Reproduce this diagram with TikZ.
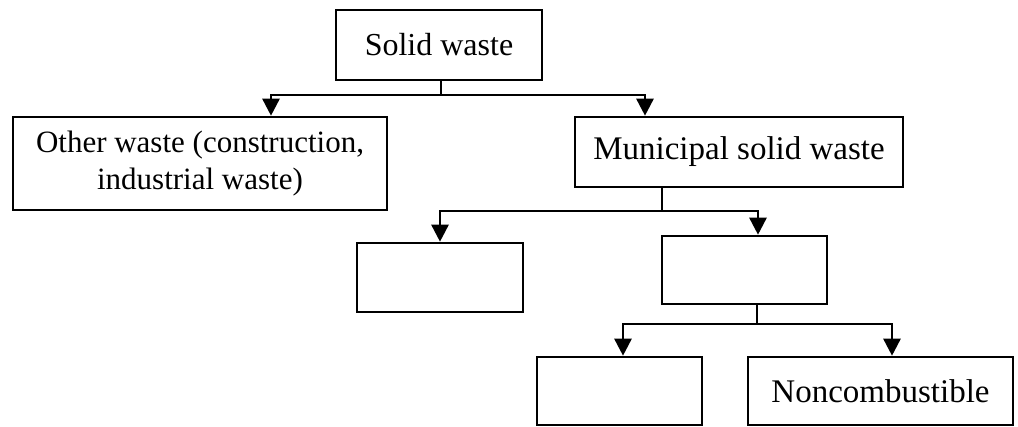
\documentclass[tikz,border=0pt]{standalone}
\usepackage{fontspec}
\setmainfont{Liberation Serif}
\usetikzlibrary{arrows.meta}
\begin{document}
\begin{tikzpicture}[x=1pt,y=-1pt,
  box/.style={draw,line width=2.6pt,inner sep=0pt,align=center,
    font=\fontsize{33}{40}\selectfont},
  link/.style={line width=2.6pt},
  arr/.style={link,-{Triangle[length=17pt,width=17pt]}}]
\useasboundingbox (0,0) rectangle (1018,426);
\node[box,minimum width=206pt,minimum height=70pt,font=\fontsize{32}{38}\selectfont] (sw) at (439,45) {Solid waste};
\node[box,minimum width=374pt,minimum height=93pt,font=\fontsize{31}{37}\selectfont] (other) at (200,163.5) {Other waste (construction,\\industrial waste)};
\node[box,minimum width=328pt,minimum height=70pt] (msw) at (739,152) {Municipal solid waste};
\node[box,minimum width=166pt,minimum height=69pt] (e1) at (440,277.5) {};
\node[box,minimum width=165pt,minimum height=68pt] (e2) at (744.5,270) {};
\node[box,minimum width=165pt,minimum height=68pt] (e3) at (619.5,391) {};
\node[box,minimum width=265pt,minimum height=68pt] (nc) at (880.5,391) {Noncombustible};
% junctions
\coordinate (j1) at (441,95);
\coordinate (t1) at (271,95);
\coordinate (t2) at (645,95);
\coordinate (j2) at (662,211);
\coordinate (t4) at (758,211);
\coordinate (j3) at (757,324);
\coordinate (t5) at (623,324);
\coordinate (t6) at (892,324);
\draw[link] (sw.south -| j1) -- (j1);
\draw[arr] (j1) -| (other.north -| t1);
\draw[arr] (j1) -| (msw.north -| t2);
\draw[link] (msw.south -| j2) -- (j2);
\draw[arr] (j2) -| (e1.north);
\draw[arr] (j2) -| (e2.north -| t4);
\draw[link] (e2.south -| j3) -- (j3);
\draw[arr] (j3) -| (e3.north -| t5);
\draw[arr] (j3) -| (nc.north -| t6);
\end{tikzpicture}
\end{document}
